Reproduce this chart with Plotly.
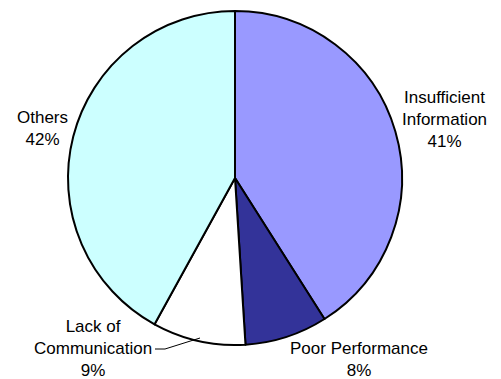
import plotly.graph_objects as go

# Share of causes
categories = ["Insufficient Information", "Poor Performance", "Lack of Communication", "Others"]
shares = [41, 8, 9, 42]
label_lines = [["Insufficient", "Information"], ["Poor Performance"], ["Lack of", "Communication"], ["Others"]]
colors = ["#9999FF", "#333399", "#FFFFFF", "#CCFFFF"]

W, H = 501, 379


def px(x):
    return x / W


def py(y):
    return 1 - y / H


fig = go.Figure(
    go.Pie(
        labels=categories,
        values=shares,
        sort=False,
        direction="clockwise",
        rotation=0,
        marker=dict(colors=colors, line=dict(color="black", width=2)),
        textinfo="none",
        hoverinfo="label+percent",
        showlegend=False,
        domain=dict(x=[px(235 - 167), px(235 + 167)], y=[py(345), py(11)]),
    )
)

# Label anchor points (center of the text block, in pixels)
label_pos = [(444, 119), (359, 359), (93, 348), (42, 128)]
for lines, val, (x, y) in zip(label_lines, shares, label_pos):
    fig.add_annotation(
        x=px(x), y=py(y), xref="paper", yref="paper",
        text="<br>".join(lines + [f"{val}%"]),
        showarrow=False, xanchor="center", yanchor="middle",
        font=dict(family="Liberation Sans, Arial", size=17, color="black"),
    )

# Leader line for the small slice
fig.add_shape(
    type="path", xref="paper", yref="paper",
    path=f"M {px(155)} {py(349)} L {px(165)} {py(349)} L {px(200)} {py(338)}",
    line=dict(color="black", width=1),
)

fig.update_layout(
    width=W, height=H,
    margin=dict(l=0, r=0, t=0, b=0),
    paper_bgcolor="white", plot_bgcolor="white",
)

fig.write_html("out.html")
